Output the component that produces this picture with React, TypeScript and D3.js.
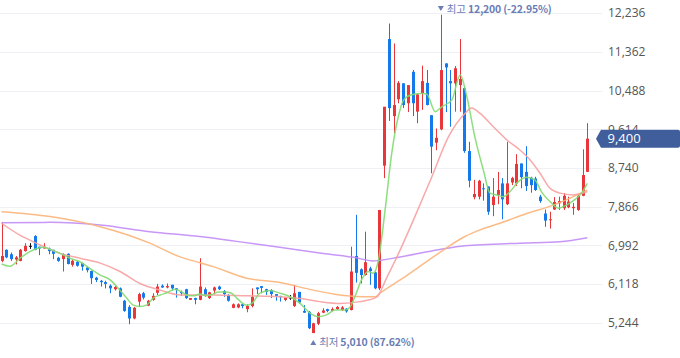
import React from "react";
import * as d3 from "d3";

const opens = [6640,6890,6790,6670,6640,6860,6980,7200,6960,6920,6920,6890,6710,6680,6800,6550,6620,6590,6490,6410,6260,6190,6160,6080,6000,6020,5740,5600,5340,5720,5910,5630,5760,5920,6080,6040,6100,6020,5940,6000,5760,5800,5760,6000,5800,5970,6060,5960,5870,5580,5590,5660,5550,5620,6040,6070,6000,5980,5890,5850,5760,5810,5620,5940,5510,5490,5010,5220,5470,5550,5510,5550,5530,5560,5530,6750,6450,6320,6470,6380,6020,8790,11650,9910,10290,10650,10200,10910,10010,10420,10660,9930,9310,9610,11100,10700,10650,10610,10540,9120,8080,8090,8280,8320,7900,8130,8390,7920,8410,8390,8840,8650,8520,8500,8090,7710,7560,7800,7940,7830,7850,7830,7790,8110,8650];
const highs = [7520,6900,6830,6750,6910,7040,7040,7220,6960,7040,6940,6890,6730,6810,6810,6680,6640,6600,6510,6420,6280,6210,6190,6110,6080,6040,5760,5640,5600,5920,5940,5760,5910,6120,6110,6130,6100,6020,5970,6010,5800,5810,6700,6040,5940,6060,6080,5980,5890,5680,5680,5680,5660,6020,6040,6070,6010,6000,5890,5850,5810,5870,6100,5940,5640,5510,5240,5490,5570,5560,5590,5620,5620,5570,6960,7680,6470,7300,6510,6400,7790,10120,12000,11550,10700,10650,10610,10950,10420,11050,10950,9930,9630,12200,11100,10950,11040,11650,10590,9330,8470,8470,8390,8320,8510,8650,8510,9330,8540,9050,8840,9230,8540,8540,8130,7800,7750,8080,8090,8170,8090,7950,8130,9160,9750];
const lows = [6610,6700,6640,6560,6630,6850,6910,6880,6770,6920,6790,6680,6620,6400,6560,6510,6510,6420,6380,6120,6160,6060,6020,5910,5970,5820,5490,5210,5320,5600,5770,5620,5740,5870,6030,6020,5970,5810,5850,5780,5760,5660,5750,5830,5780,5890,5980,5830,5720,5570,5570,5570,5480,5590,5890,5910,5870,5800,5740,5720,5730,5760,5600,5670,5470,5100,5010,5190,5460,5480,5500,5530,5510,5470,5520,6150,6130,6310,6100,6000,5980,8510,9800,9520,10200,10090,10000,9910,9750,10050,10150,8620,9140,9590,10000,9670,10010,10010,9080,8300,8030,8030,8000,7680,7650,7920,7580,7900,8350,8330,8280,8220,8180,8220,7950,7410,7370,7790,7790,7790,7830,7680,7770,8100,8650];
const closes = [6750,6720,6680,6720,6890,6980,6980,6890,6920,6960,6860,6800,6640,6790,6570,6640,6530,6510,6430,6250,6210,6160,6120,6020,6050,5830,5510,5340,5580,5890,5810,5740,5850,6060,6040,6070,6020,5980,5910,5800,5800,5760,6060,5870,5930,6040,6000,5890,5740,5660,5660,5620,5620,5830,6000,6030,5940,5890,5850,5820,5810,5810,5910,5700,5470,5120,5230,5460,5520,5510,5550,5600,5590,5500,6400,6370,6320,6610,6410,6020,7790,10120,10090,10160,10660,10160,10610,10200,10400,10700,10160,9220,9420,10950,11010,10650,10990,10750,9120,8450,8150,8450,8260,7750,8090,8240,8030,8390,8510,8830,8530,8330,8350,8240,7990,7550,7580,7970,7990,8110,7980,7860,8110,8580,9400];

// moving averages: [candle index, value]
const ma5: [number, number][] = [[0,6570],[1.8,6520],[3.9,6700],[6,6850],[7.5,6920],[8.8,6950],[10.3,6900],[12.4,6810],[14.5,6700],[16.6,6620],[18.7,6470],[20.9,6320],[23,6210],[24.7,6020],[26.5,5800],[27.9,5640],[29.3,5610],[30.7,5640],[32.1,5800],[33.6,5870],[35,5920],[36.7,6000],[38.1,5940],[39.2,5870],[40.6,5850],[42,5890],[43.4,5850],[44.8,5890],[45.9,5940],[47.3,5940],[48.7,5910],[49.8,5800],[51.9,5640],[53,5680],[54.7,5910],[56.8,5970],[59,5910],[61.1,5830],[63.2,5680],[65.3,5460],[67.1,5380],[68.8,5420],[70.6,5530],[72.7,5530],[73.8,5600],[74.8,5830],[76.2,6210],[77.6,6400],[78.7,6360],[79.8,6660],[81.2,7790],[82.6,9070],[84,9900],[85.1,10270],[86.8,10390],[89,10420],[90,10410],[91.8,10010],[93.2,10120],[95.3,10270],[97.1,10840],[98.5,10350],[100.2,9440],[102,8690],[103.4,8170],[104.8,8130],[106.2,8090],[107.6,8200],[109.4,8430],[111.2,8530],[112.9,8470],[114.3,8200],[116.1,7980],[117.9,7830],[119.6,7900],[121.4,8030],[122.8,8170],[124,8390]];
const ma20: [number, number][] = [[0,7490],[3.9,7220],[8.2,7000],[12.4,6810],[16.6,6700],[20.9,6590],[25.1,6400],[29.3,6130],[33.6,5980],[37.8,5870],[44.8,5870],[51.9,5850],[59,5830],[63.2,5790],[67.4,5720],[71.7,5680],[75.9,5720],[79.4,5820],[81.5,6250],[84.4,6890],[87.5,7640],[91.1,8540],[94.6,9440],[98.1,9970],[99.5,10090],[101.3,9970],[104.1,9670],[107,9370],[109.8,9140],[111.9,8920],[114,8620],[116.1,8280],[118.2,8170],[121,8130],[124,8200]];
const ma60: [number, number][] = [[0,7750],[10.3,7640],[20.9,7410],[31.4,7040],[37.8,6730],[42,6600],[44.8,6510],[51.9,6250],[59,6150],[66,5980],[73.1,5850],[76.6,5830],[79.1,5830],[80.1,5910],[84.4,6210],[85.4,6280],[92.5,6810],[98.1,7190],[101.3,7340],[105.5,7490],[111.2,7710],[116.8,7900],[124,8240]];
const ma120: [number, number][] = [[0,7500],[10.3,7510],[20.9,7450],[31.4,7300],[42,7190],[48.4,7100],[55.4,7000],[62.5,6890],[69.5,6790],[74.5,6720],[78.7,6640],[84.4,6730],[92.5,6890],[98.1,6980],[109.8,7040],[118.2,7070],[124,7160]];

const tickValues = [5244, 6118, 6992, 7866, 8740, 9614, 10488, 11362, 12236];

const W = 680, H = 358;
const RED = "#e9363b", BLUE = "#1479ea", ANN = "#6a7db5";

export default function App() {
  const N = closes.length;
  const x = d3.scaleLinear().domain([0, N - 1]).range([1.5, 587.3]);
  const y = d3.scaleLinear().domain([5244, 12236]).range([322.7, 13.1]);
  const fmt = d3.format(",");
  const line = d3.line<[number, number]>().x(d => x(d[0])).y(d => y(d[1])).curve(d3.curveMonotoneX);

  const last = closes[N - 1];
  const hi = d3.max(highs)!;
  const lo = d3.min(lows)!;
  const hiIdx = highs.indexOf(hi);
  const loIdx = lows.indexOf(lo);
  const hiPct = ((last / hi - 1) * 100).toFixed(2);
  const loPct = ((last / lo - 1) * 100).toFixed(2);
  const ly = y(last);

  const mas = [
    { d: ma120, c: "#c28cf6" },
    { d: ma60, c: "#fbb47a" },
    { d: ma20, c: "#f7a0a0" },
    { d: ma5, c: "#82da72" },
  ];

  const hx = x(hiIdx), lx = x(loIdx);
  const annFont = "'Noto Sans CJK KR', sans-serif";
  return (
    <div style={{ position: "absolute", left: 0, top: 0 }}>
      <svg width={W} height={H} style={{ display: "block", background: "#fff" }}>
        {tickValues.map(t => (
          <line key={t} x1={0} x2={602} y1={Math.round(y(t)) + 0.5} y2={Math.round(y(t)) + 0.5} stroke="#eef0f3" strokeWidth={1} />
        ))}
        {tickValues.map(t => (
          <text key={"l" + t} x={608} y={y(t)} dy="0.36em" fontSize={12} fontFamily="'Open Sans', sans-serif" fill="#555">{fmt(t)}</text>
        ))}
        {closes.map((c, i) => {
          const o = opens[i];
          const col = c > o ? RED : c < o ? BLUE : "#111";
          const cx = Math.round(x(i));
          const top = y(Math.max(o, c)), bot = y(Math.min(o, c));
          return (
            <g key={i}>
              <line x1={cx + 0.5} x2={cx + 0.5} y1={y(highs[i])} y2={y(lows[i])} stroke={col} strokeWidth={1} />
              <rect x={cx - 1} y={top} width={3} height={Math.max(1, bot - top)} fill={col} />
            </g>
          );
        })}
        {mas.map((m, k) => (
          <path key={k} d={line(m.d) || ""} fill="none" stroke={m.c} strokeWidth={1.5} opacity={0.9} />
        ))}
        <path d={`M${hx - 3},${6} L${hx + 3},${6} L${hx},${11} Z`} fill={ANN} />
        <text x={hx + 6} y={9} dy="0.35em" fontSize={10.5} letterSpacing={-0.2} fontFamily={annFont} fill={ANN}>
          <tspan>최고 </tspan>
          <tspan fontWeight="bold">{fmt(hi)} ({hiPct}%)</tspan>
        </text>
        <path d={`M${lx - 3},${345} L${lx + 3},${345} L${lx},${340} Z`} fill={ANN} />
        <text x={lx + 6} y={342.7} dy="0.35em" fontSize={10.5} letterSpacing={-0.2} fontFamily={annFont} fill={ANN}>
          <tspan>최저 </tspan>
          <tspan fontWeight="bold">{fmt(lo)} ({loPct}%)</tspan>
        </text>
        <path d={`M596,${ly} L601,${ly - 9} L678,${ly - 9} Q680,${ly - 9} 680,${ly - 7} L680,${ly + 7} Q680,${ly + 9} 678,${ly + 9} L601,${ly + 9} Z`} fill="#405e9c" />
        <text x={607.5} y={ly} dy="0.36em" fontSize={13} fontFamily="'Open Sans', sans-serif" fill="#fff">{fmt(last)}</text>
      </svg>
    </div>
  );
}
